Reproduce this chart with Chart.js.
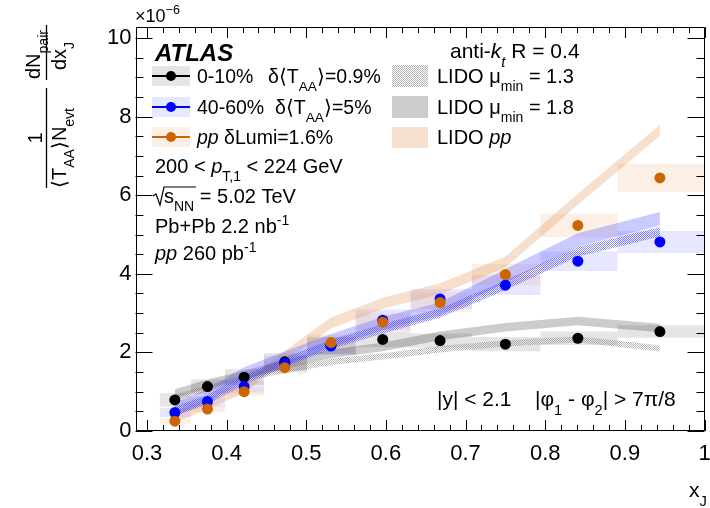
<!DOCTYPE html>
<html>
<head>
<meta charset="utf-8">
<script src="https://cdn.jsdelivr.net/npm/chart.js@4.4.0/dist/chart.umd.min.js"></script>
<style>
    html, body { margin: 0; padding: 0; background: #fff; }
    #wrap { width: 710px; height: 508px; }
</style>
</head>
<body>
<div id="wrap"><canvas id="xjChart" width="710" height="508"></canvas></div>
<script>
// x_J bin centres and bin edges
const xCenters = [0.335, 0.376, 0.422, 0.473, 0.531, 0.596, 0.668, 0.750, 0.841, 0.944];
const binEdges = [0.316, 0.355, 0.398, 0.447, 0.501, 0.562, 0.631, 0.708, 0.794, 0.891, 1.0];

// measured distributions (x 1e-6) and systematic half-heights
const central = [0.79, 1.13, 1.37, 1.76, 2.18, 2.33, 2.30, 2.21, 2.36, 2.53];
const centralSys = [0.17, 0.18, 0.20, 0.22, 0.22, 0.20, 0.18, 0.18, 0.17, 0.16];
const peripheral = [0.47, 0.75, 1.13, 1.72, 2.16, 2.82, 3.36, 3.71, 4.32, 4.81];
const peripheralSys = [0.12, 0.13, 0.15, 0.20, 0.22, 0.27, 0.25, 0.25, 0.25, 0.28];
const ppData = [0.25, 0.56, 1.00, 1.61, 2.25, 2.77, 3.27, 3.98, 5.23, 6.44];
const ppSys = [0.07, 0.08, 0.10, 0.15, 0.20, 0.22, 0.25, 0.27, 0.30, 0.36];

// LIDO predictions: band centre and half width
const lidoPP = [0.35, 0.70, 1.10, 1.90, 2.75, 3.25, 3.62, 4.30, 5.90, 7.65];
const lidoPPWidth = [0.14, 0.14, 0.14, 0.14, 0.14, 0.14, 0.14, 0.14, 0.14, 0.14];
const lidoCentral18 = [0.95, 1.20, 1.42, 1.70, 1.96, 2.14, 2.42, 2.64, 2.80, 2.62];
const lidoCentral18Width = [0.11, 0.11, 0.11, 0.11, 0.11, 0.11, 0.11, 0.11, 0.11, 0.11];
const lidoCentral13 = [0.85, 1.10, 1.35, 1.55, 1.76, 1.90, 2.08, 2.23, 2.33, 2.10];
const lidoCentral13Width = [0.08, 0.08, 0.08, 0.08, 0.08, 0.08, 0.08, 0.08, 0.08, 0.08];
const lidoPeriph18 = [0.55, 0.90, 1.45, 1.85, 2.30, 2.74, 3.10, 3.95, 4.86, 5.40];
const lidoPeriph18Width = [0.17, 0.17, 0.17, 0.17, 0.17, 0.17, 0.17, 0.17, 0.17, 0.17];
const lidoPeriph13 = [0.50, 0.80, 1.30, 1.75, 2.20, 2.60, 3.00, 3.71, 4.56, 5.07];
const lidoPeriph13Width = [0.12, 0.12, 0.12, 0.12, 0.12, 0.12, 0.12, 0.12, 0.12, 0.12];

// axes
const xTickLabels = [0.3, 0.4, 0.5, 0.6, 0.7, 0.8, 0.9, 1.0];
const yTickLabels = [0, 2, 4, 6, 8, 10];

const FONT = '"Liberation Sans", Arial, Helvetica, sans-serif';
const BLACK = '#000000';
const BLUE = '#0000ff';
const ORANGE = '#cd6600';

const canvas = document.getElementById('xjChart');
const ctx = canvas.getContext('2d');

function checker(color) {
    const pc = document.createElement('canvas');
    pc.width = 2;
    pc.height = 2;
    const pctx = pc.getContext('2d');
    pctx.fillStyle = color;
    pctx.fillRect(0, 0, 1, 1);
    pctx.fillRect(1, 1, 1, 1);
    return ctx.createPattern(pc, 'repeat');
}

const grayHatch = checker('rgba(120,120,120,0.55)');
const blueHatch = checker('rgba(60,60,255,0.6)');

function pointSet(values, color) {
    return {
        data: xCenters.map((x, i) => ({ x: x, y: values[i] })),
        showLine: false,
        pointRadius: 5.5,
        pointBackgroundColor: color,
        pointBorderWidth: 0
    };
}

function edgeLine(values, offsets, sign) {
    return {
        data: xCenters.map((x, i) => ({ x: x, y: values[i] + sign * offsets[i] })),
        borderWidth: 0,
        pointRadius: 0,
        fill: false
    };
}

// pair of datasets, the second one fills down to the first
function band(values, offsets, fillColor) {
    const lower = edgeLine(values, offsets, -1);
    const upper = edgeLine(values, offsets, 1);
    upper.fill = '-1';
    upper.backgroundColor = fillColor;
    return [lower, upper];
}

function stepLine(values, offsets, sign) {
    const pts = [];
    values.forEach((v, i) => {
        pts.push({ x: binEdges[i], y: v + sign * offsets[i] });
        pts.push({ x: binEdges[i + 1], y: v + sign * offsets[i] });
    });
    return { data: pts, borderWidth: 0, pointRadius: 0, fill: false };
}

function sysBoxes(values, offsets, fillColor) {
    const lower = stepLine(values, offsets, -1);
    const upper = stepLine(values, offsets, 1);
    upper.fill = '-1';
    upper.backgroundColor = fillColor;
    return [lower, upper];
}

// first dataset is drawn on top
const datasets = [
    pointSet(ppData, ORANGE),
    pointSet(peripheral, BLUE),
    pointSet(central, BLACK),
    ...band(lidoPeriph13, lidoPeriph13Width, blueHatch),
    ...band(lidoPeriph18, lidoPeriph18Width, 'rgba(80,80,255,0.3)'),
    ...band(lidoCentral13, lidoCentral13Width, grayHatch),
    ...band(lidoCentral18, lidoCentral18Width, 'rgba(0,0,0,0.2)'),
    ...band(lidoPP, lidoPPWidth, 'rgba(225,150,90,0.3)'),
    ...sysBoxes(ppData, ppSys, 'rgba(230,140,60,0.13)'),
    ...sysBoxes(peripheral, peripheralSys, 'rgba(60,60,255,0.12)'),
    ...sysBoxes(central, centralSys, 'rgba(0,0,0,0.1)')
];

// draws text pieces; kind is a list of words: italic, bold, sub, sup
function rich(c, x, y, parts, size) {
    let cx = x;
    for (const [t, kind] of parts) {
        const k = kind.split(' ');
        let fs = size, dy = 0, style = '';
        if (k.includes('sub')) { fs = size * 0.7; dy = size * 0.42; }
        if (k.includes('sup')) { fs = size * 0.7; dy = -size * 0.42; }
        if (k.includes('italic')) style += 'italic ';
        if (k.includes('bold')) style += 'bold ';
        c.font = style + fs + 'px ' + FONT;
        c.fillText(t, cx, y + dy);
        cx += c.measureText(t).width;
    }
    return cx;
}

const framePlugin = {
    id: 'frame',
    afterDatasetsDraw(chart) {
        const c = chart.ctx;
        const a = chart.chartArea;
        const xs = chart.scales.x;
        const ys = chart.scales.y;
        c.save();
        c.strokeStyle = '#000';
        c.lineWidth = 1;
        c.beginPath();
        c.rect(Math.round(a.left) + 0.5, Math.round(a.top) + 0.5,
               Math.round(a.right - a.left) - 1, Math.round(a.bottom - a.top) - 1);
        for (let k = 0; k <= 35; k++) {
            const v = 0.3 + k * 0.02;
            const px = Math.round(xs.getPixelForValue(v)) + 0.5;
            const len = k % 5 === 0 ? 11 : 6;
            c.moveTo(px, a.bottom);
            c.lineTo(px, a.bottom - len);
            c.moveTo(px, a.top);
            c.lineTo(px, a.top + len);
        }
        for (let k = 0; k <= 20; k++) {
            const py = Math.round(ys.getPixelForValue(k * 0.5)) + 0.5;
            const len = k % 4 === 0 ? 17 : 8;
            c.moveTo(a.left, py);
            c.lineTo(a.left + len, py);
            c.moveTo(a.right, py);
            c.lineTo(a.right - len, py);
        }
        c.stroke();
        c.restore();
    }
};

const textPlugin = {
    id: 'labels',
    afterDraw(chart) {
        const c = chart.ctx;
        c.save();
        c.fillStyle = '#000';
        c.textBaseline = 'alphabetic';

        // exponent
        rich(c, 135, 22, [['\u00d710', ''], ['\u22126', 'sup']], 18);

        rich(c, 155, 61, [['ATLAS', 'bold italic']], 24);
        rich(c, 450, 58, [['anti-', ''], ['k', 'italic'], ['t', 'italic sub'], [' R = 0.4', '']], 21);

        // data legend
        const rows = [
            { y: 76, color: BLACK, box: 'rgba(0,0,0,0.1)' },
            { y: 107, color: BLUE, box: 'rgba(60,60,255,0.12)' },
            { y: 137, color: ORANGE, box: 'rgba(230,140,60,0.13)' }
        ];
        rows.forEach(r => {
            c.fillStyle = r.box;
            c.fillRect(152, r.y - 10, 38, 20);
            c.strokeStyle = r.color;
            c.lineWidth = 2;
            c.beginPath();
            c.moveTo(152, r.y);
            c.lineTo(190, r.y);
            c.stroke();
            c.fillStyle = r.color;
            c.beginPath();
            c.arc(171, r.y, 5, 0, Math.PI * 2);
            c.fill();
        });
        c.fillStyle = '#000';
        rich(c, 197, 83, [['0-10%', '']], 19.5);
        rich(c, 268, 83, [['\u03b4\u27e8T', ''], ['AA', 'sub'], ['\u27e9=0.9%', '']], 19.5);
        rich(c, 197, 114, [['40-60%', '']], 19.5);
        rich(c, 275, 114, [['\u03b4\u27e8T', ''], ['AA', 'sub'], ['\u27e9=5%', '']], 19.5);
        rich(c, 197, 144, [['pp', 'italic'], [' \u03b4Lumi=1.6%', '']], 19.5);

        // LIDO legend
        c.fillStyle = grayHatch;
        c.fillRect(392, 65, 36, 22);
        c.fillStyle = 'rgba(0,0,0,0.2)';
        c.fillRect(392, 96, 36, 22);
        c.fillStyle = 'rgba(225,150,90,0.3)';
        c.fillRect(392, 127, 36, 21);
        c.fillStyle = '#000';
        rich(c, 437, 83, [['LIDO \u03bc', ''], ['min', 'sub'], [' = 1.3', '']], 20);
        rich(c, 437, 114, [['LIDO \u03bc', ''], ['min', 'sub'], [' = 1.8', '']], 20);
        rich(c, 437, 144, [['LIDO ', ''], ['pp', 'italic']], 20);

        // selection text
        rich(c, 155, 173, [['200 < ', ''], ['p', 'italic'], ['T,1', 'sub'], [' < 224 GeV', '']], 20);
        c.lineWidth = 1.2;
        c.strokeStyle = '#000';
        c.beginPath();
        c.moveTo(153, 196);
        c.lineTo(156, 194);
        c.lineTo(160, 205);
        c.lineTo(164, 187);
        c.lineTo(196, 187);
        c.stroke();
        rich(c, 164, 203, [['s', ''], ['NN', 'sub'], [' = 5.02 TeV', '']], 20);
        rich(c, 155, 233, [['Pb+Pb 2.2 nb', ''], ['-1', 'sup']], 20);
        rich(c, 155, 260, [['pp', 'italic'], [' 260 pb', ''], ['-1', 'sup']], 20);
        rich(c, 437, 406, [['|y| < 2.1', '']], 21);
        rich(c, 535, 406, [['|\u03c6', ''], ['1', 'sub'], [' - \u03c6', ''], ['2', 'sub'], ['| > 7\u03c0/8', '']], 21);

        // x title
        rich(c, 689, 497, [['x', ''], ['J', 'sub']], 21);

        // y title, rotated
        c.rotate(-Math.PI / 2);
        c.lineWidth = 1.3;
        c.beginPath();
        c.moveTo(-188, 46.5);
        c.lineTo(-88, 46.5);
        c.moveTo(-80, 46.5);
        c.lineTo(-25, 46.5);
        c.stroke();
        c.textAlign = 'center';
        c.font = '20px ' + FONT;
        c.fillText('1', -138, 42);
        c.textAlign = 'left';
        rich(c, -188, 66, [['\u27e8T', ''], ['AA', 'sub'], ['\u27e9N', ''], ['evt', 'sub']], 20);
        rich(c, -79, 40, [['dN', ''], ['pair', 'sub']], 20);
        rich(c, -70, 66, [['dx', ''], ['J', 'sub']], 20);
        c.restore();
    }
};

const chart = new Chart(ctx, {
    type: 'line',
    data: { datasets: datasets },
    options: {
        responsive: false,
        animation: false,
        events: [],
        layout: { padding: { top: 27, right: 3, left: 0, bottom: 0 } },
        plugins: {
            legend: { display: false },
            tooltip: { enabled: false }
        },
        scales: {
            x: {
                type: 'linear',
                min: 0.2856,
                max: 1.0,
                afterBuildTicks: function(scale) {
                    scale.ticks = xTickLabels.map(v => ({ value: v }));
                },
                afterFit: function(scale) {
                    scale.height = 77;
                    scale.paddingLeft = 0;
                    scale.paddingRight = 0;
                },
                grid: { display: false, drawTicks: false },
                border: { display: false },
                ticks: {
                    color: '#000',
                    autoSkip: false,
                    maxRotation: 0,
                    padding: 10,
                    font: { family: FONT, size: 22 },
                    callback: function(value) { return value === 1 ? '1' : value.toFixed(1); }
                }
            },
            y: {
                type: 'linear',
                min: 0,
                max: 10.28,
                afterBuildTicks: function(scale) {
                    scale.ticks = yTickLabels.map(v => ({ value: v }));
                },
                afterFit: function(scale) {
                    scale.width = 135.5;
                    scale.paddingTop = 0;
                    scale.paddingBottom = 0;
                },
                grid: { display: false, drawTicks: false },
                border: { display: false },
                ticks: {
                    color: '#000',
                    autoSkip: false,
                    padding: 4,
                    font: { family: FONT, size: 22 }
                }
            }
        }
    },
    plugins: [framePlugin, textPlugin]
});
</script>
</body>
</html>
